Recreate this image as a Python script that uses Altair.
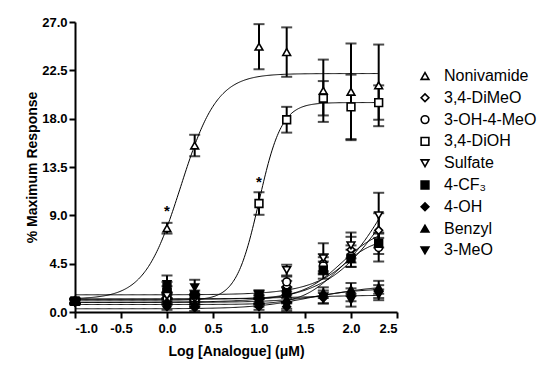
import altair as alt
import pandas as pd

# ---- data ----
log_conc = [-1.0, 0.0, 0.301, 1.0, 1.301, 1.699, 2.0, 2.301]

compounds = ["Nonivamide", "3,4-DiMeO", "3-OH-4-MeO", "3,4-DiOH", "Sulfate",
             "4-CF₃", "4-OH", "Benzyl", "3-MeO"]
shapes = ["triangle-up", "diamond", "circle", "square", "triangle-down",
          "square", "diamond", "triangle-up", "triangle-down"]
fills = ["white", "white", "white", "white", "white",
         "black", "black", "black", "black"]
strokes = ["black"] * 9

mean_nonivamide = [1.1, 7.8, 15.5, 24.7, 24.2, 20.6, 20.5, 21.1]
mean_dimeo = [0.9, 1.0, 0.8, 1.2, 2.4, 4.6, 5.8, 7.6]
mean_oh_meo = [1.0, 1.3, 1.0, 1.0, 2.8, 4.3, 5.2, 6.0]
mean_dioh = [1.0, 1.8, 1.3, 10.1, 17.9, 19.9, 19.1, 19.5]
mean_sulfate = [1.0, 1.5, 1.2, 1.6, 3.9, 5.0, 6.2, 9.0]
mean_cf3 = [1.0, 2.3, 1.6, 1.6, 1.8, 3.9, 5.0, 6.4]
mean_oh = [0.9, 0.5, 0.4, 0.5, 0.5, 1.3, 1.6, 1.9]
mean_benzyl = [1.0, 1.0, 0.8, 1.1, 1.2, 1.8, 2.1, 2.3]
mean_meo = [1.0, 2.6, 2.3, 0.9, 0.6, 1.4, 1.1, 1.6]

err_nonivamide = [0.2, 0.5, 1.0, 2.1, 2.3, 2.9, 4.5, 3.8]
err_dimeo = [0.2, 0.3, 0.3, 0.4, 0.5, 0.8, 1.2, 1.6]
err_oh_meo = [0.2, 0.3, 0.3, 0.3, 0.5, 0.8, 1.0, 1.3]
err_dioh = [0.2, 0.6, 0.4, 1.05, 1.2, 1.6, 3.0, 1.6]
err_sulfate = [0.2, 0.3, 0.3, 0.4, 0.5, 1.4, 1.2, 2.1]
err_cf3 = [0.2, 0.5, 0.4, 0.4, 0.5, 0.8, 0.8, 1.0]
err_oh = [0.2, 0.3, 0.3, 0.3, 0.4, 0.5, 0.6, 0.6]
err_benzyl = [0.2, 0.3, 0.3, 0.4, 0.4, 0.5, 0.6, 0.6]
err_meo = [0.2, 0.8, 0.7, 0.4, 0.3, 0.6, 0.6, 0.5]

# fitted sigmoid parameters (bottom, top, logEC50, Hill slope)
fit_bottom = [1.2, 0.9, 1.2, 1.1, 1.6, 0.7, 0.3, 0.9, 1.2]
fit_top = [22.2, 20.0, 8.0, 19.5, 20.0, 7.0, 2.2, 2.5, 1.6]
fit_logec50 = [0.15, 2.5, 1.9, 1.0, 2.45, 1.85, 1.5, 1.8, 1.5]
fit_hill = [2.2, 1.2, 2.0, 3.5, 1.4, 2.2, 1.5, 1.5, 1.0]

star_x = [0.0, 1.0]
star_y = [9.4, 12.1]

x_ticks = [-1.0, -0.5, 0.0, 0.5, 1.0, 1.5, 2.0, 2.5]
y_ticks = [0.0, 4.5, 9.0, 13.5, 18.0, 22.5, 27.0]

means = [mean_nonivamide, mean_dimeo, mean_oh_meo, mean_dioh, mean_sulfate,
         mean_cf3, mean_oh, mean_benzyl, mean_meo]
errs = [err_nonivamide, err_dimeo, err_oh_meo, err_dioh, err_sulfate,
        err_cf3, err_oh, err_benzyl, err_meo]

rows = []
for i, c in enumerate(compounds):
    for j, xv in enumerate(log_conc):
        m = means[i][j]
        e = errs[i][j]
        rows.append({"compound": c, "x": xv, "y": m, "lo": m - e, "hi": m + e})
df = pd.DataFrame(rows)

params = pd.DataFrame({"compound": compounds, "bottom": fit_bottom, "top": fit_top,
                       "ec50": fit_logec50, "hill": fit_hill})
stars = pd.DataFrame({"x": star_x, "y": star_y, "t": ["*", "*"]})

FONT = "Liberation Sans"
xscale = alt.Scale(domain=[-1.0, 2.5], nice=False, zero=False, padding=0)
yscale = alt.Scale(domain=[0, 27], nice=False, zero=False, padding=0)
xaxis = alt.Axis(values=x_ticks, title="Log [Analogue] (μM)",
                 labelExpr="(datum.value < 0 ? '-' : '') + format(abs(datum.value), '.1f')")
yaxis = alt.Axis(values=y_ticks, format=".1f", title="% Maximum Response")


def X(field):
    return alt.X(field, type="quantitative", scale=xscale, axis=xaxis)


def Y(field):
    return alt.Y(field, type="quantitative", scale=yscale, axis=yaxis)


curves = (
    alt.Chart(params)
    .transform_calculate(xs="sequence(-1, 2.305, 0.01)")
    .transform_flatten(["xs"])
    .transform_calculate(
        yc="datum.bottom + (datum.top - datum.bottom) / (1 + pow(10, (datum.ec50 - datum.xs) * datum.hill))"
    )
    .mark_line(color="black", strokeWidth=1)
    .encode(x=X("xs"), y=Y("yc"), detail="compound:N")
)

bars = alt.Chart(df).mark_rule(color="black", strokeWidth=2).encode(
    x=X("x"), y=Y("lo"), y2="hi"
)

caps = (
    alt.Chart(df)
    .transform_fold(["lo", "hi"], as_=["k", "v"])
    .mark_tick(orient="horizontal", size=11, thickness=2, color="black")
    .encode(x=X("x"), y=Y("v"))
)

legend = alt.Legend(
    title=None, orient="none", legendX=342, legendY=46,
    labelFont=FONT, labelFontSize=16, labelColor="black",
    symbolSize=60, symbolStrokeWidth=1.6,
    labelOffset=11, rowPadding=5.8, padding=0,
)

points = alt.Chart(df).mark_point(
    filled=True, size=60, strokeWidth=1.6, opacity=1
).encode(
    x=X("x"), y=Y("y"),
    shape=alt.Shape("compound:N", sort=compounds,
                    scale=alt.Scale(domain=compounds, range=shapes), legend=legend),
    fill=alt.Fill("compound:N", sort=compounds,
                  scale=alt.Scale(domain=compounds, range=fills), legend=legend),
    stroke=alt.Stroke("compound:N", sort=compounds,
                      scale=alt.Scale(domain=compounds, range=strokes), legend=legend),
)

star_text = alt.Chart(stars).mark_text(
    font=FONT, fontSize=15, fontWeight="bold", color="black", baseline="middle"
).encode(x=X("x"), y=Y("y"), text="t:N")

chart = (
    alt.layer(curves, bars, caps, points, star_text)
    .properties(
        width=322, height=290,
        autosize=alt.AutoSizeParams(type="none"),
        padding={"left": 67, "top": 14, "right": 150, "bottom": 50},
    )
    .configure_view(stroke=None)
    .configure_axis(
        domainColor="black", domainWidth=2, tickColor="black", tickWidth=2,
        tickSize=6, grid=False, labelFont=FONT, labelFontSize=13,
        labelFontWeight="bold", labelColor="black", titleFont=FONT,
        titleFontSize=14, titleFontWeight="bold", titleColor="black",
    )
    .configure_axisX(labelPadding=4, titlePadding=9)
    .configure_axisY(labelPadding=2, titlePadding=2)
)

chart.save("out.html", embed_options={"renderer": "svg", "actions": False})
